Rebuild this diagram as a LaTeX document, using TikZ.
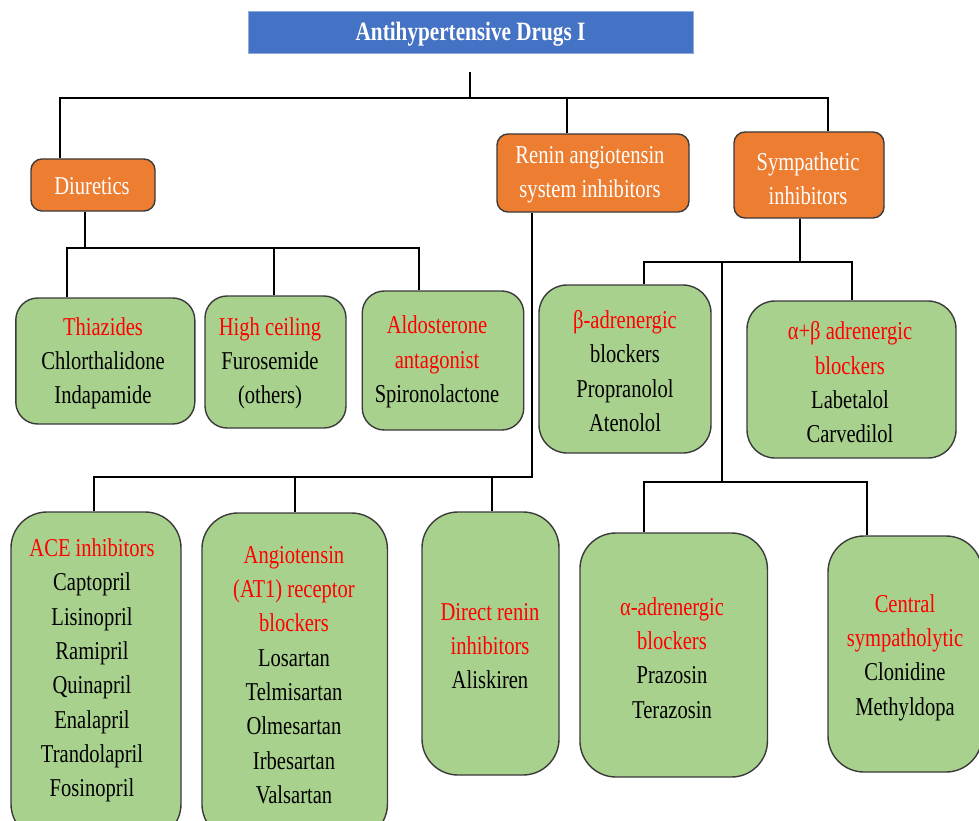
\documentclass[tikz,border=0pt]{standalone}
\usepackage{fontspec}
\setmainfont[FakeStretch=0.8]{Liberation Serif}
\definecolor{grn}{HTML}{A9D18E}
\definecolor{orng}{HTML}{ED7D31}
\definecolor{blu}{HTML}{4472C4}
\definecolor{blued}{HTML}{8FAADC}
\definecolor{rd}{HTML}{FF0000}
\definecolor{edge}{HTML}{3A3A3A}
\begin{document}
\begin{tikzpicture}[x=1pt,y=-1pt,
  conn/.style={draw=black,line width=2pt},
  gbox/.style={draw=edge,line width=1.4pt,fill=grn,inner sep=0pt,rounded corners=22pt},
  gboxl/.style={gbox,rounded corners=36pt},
  obox/.style={draw=edge,line width=1.4pt,fill=orng,inner sep=0pt,rounded corners=11pt},
  tbox/.style={draw=blued,line width=1pt,fill=blu,inner sep=0pt},
  txt/.style={align=center,inner sep=0pt,font=\fontsize{25.7}{34.3}\selectfont},
  wtxt/.style={txt,text=white}]
\useasboundingbox (0,0) rectangle (979,821);
\begin{scope}
\clip (0,0) rectangle (979,821);
% boxes
\node[tbox,minimum width=445pt,minimum height=42pt] (ttl) at (470.5,33) {};
\node[obox,minimum width=124pt,minimum height=52pt] (diu) at (93,185) {};
\node[obox,minimum width=192pt,minimum height=78pt] (ren) at (593,173) {};
\node[obox,minimum width=150pt,minimum height=86pt] (sym) at (809,175) {};
\node[gbox,minimum width=179pt,minimum height=126pt] (thz) at (105.3,361) {};
\node[gbox,minimum width=141pt,minimum height=132pt] (hc) at (275.5,362) {};
\node[gbox,minimum width=161.5pt,minimum height=139pt] (ald) at (443,360.5) {};
\node[gbox,rounded corners=28pt,minimum width=172pt,minimum height=168pt] (bet) at (625,369) {};
\node[gbox,rounded corners=28pt,minimum width=209pt,minimum height=157pt] (ab) at (851.5,379.5) {};
\node[gboxl,minimum width=170pt,minimum height=328pt] (ace) at (96,676) {};
\node[gboxl,minimum width=185.5pt,minimum height=327pt] (arb) at (294.7,676.5) {};
\node[gboxl,minimum width=137pt,minimum height=263pt] (drn) at (490.5,643.5) {};
\node[gboxl,minimum width=187.5pt,minimum height=244pt] (alp) at (673.7,655) {};
\node[gboxl,minimum width=154pt,minimum height=236pt] (cen) at (905,654) {};
% texts
\node[wtxt,font=\fontsize{26.5}{30}\selectfont\bfseries] (ttlt) at (470.5,34) {Antihypertensive Drugs I};
\node[wtxt] (diut) at (92,186) {Diuretics};
\node[wtxt] (rent) at (590,175) {Renin angiotensin\\system inhibitors};
\node[wtxt] (symt) at (808,178.5) {Sympathetic\\inhibitors};
\node[txt] (thzt) at (103,363.5) {\textcolor{rd}{Thiazides}\\Chlorthalidone\\Indapamide};
\node[txt] (hct) at (270,363.5) {\textcolor{rd}{High ceiling}\\Furosemide\\(others)};
\node[txt] (aldt) at (437,362) {\textcolor{rd}{Aldosterone}\\\textcolor{rd}{antagonist}\\Spironolactone};
\node[txt] (bett) at (625,371) {\textcolor{rd}{β-adrenergic}\\blockers\\Propranolol\\Atenolol};
\node[txt] (abt) at (850,382.5) {\textcolor{rd}{α+β adrenergic}\\\textcolor{rd}{blockers}\\Labetalol\\Carvedilol};
\node[txt] (acet) at (92,670.5) {\textcolor{rd}{ACE inhibitors}\\Captopril\\Lisinopril\\Ramipril\\Quinapril\\Enalapril\\Trandolapril\\Fosinopril};
\node[txt] (arbt) at (294,675) {\textcolor{rd}{Angiotensin}\\\textcolor{rd}{(AT1) receptor}\\\textcolor{rd}{blockers}\\Losartan\\Telmisartan\\Olmesartan\\Irbesartan\\Valsartan};
\node[txt] (drnt) at (490,646) {\textcolor{rd}{Direct renin}\\\textcolor{rd}{inhibitors}\\Aliskiren};
\node[txt] (alpt) at (672,658) {\textcolor{rd}{α-adrenergic}\\\textcolor{rd}{blockers}\\Prazosin\\Terazosin};
\node[txt] (cent) at (905,657.5) {\textcolor{rd}{Central}\\\textcolor{rd}{sympatholytic}\\Clonidine\\Methyldopa};
% connectors
\coordinate (t0) at (470,72);
\coordinate (b1) at (470,98);
\draw[conn] (t0) -- (b1);
\draw[conn] ([xshift=-33pt]diu.north) |- (b1) -| ([xshift=19pt]sym.north);
\draw[conn] ([xshift=-26pt]ren.north) -- ([xshift=-26pt]ren.north |- b1);
\coordinate (d1) at (85,248);
\draw[conn] ([xshift=-8pt]diu.south) -- (d1);
\draw[conn] ([xshift=-38pt]thz.north) |- (d1) -| ([xshift=-24pt]ald.north);
\draw[conn] ([xshift=-1.5pt]hc.north) -- ([xshift=-1.5pt]hc.north |- d1);
\coordinate (r1) at (532,477);
\draw[conn] ([xshift=-61pt]ren.south) -- (r1) -| ([xshift=-2pt]ace.north);
\draw[conn] (arb.north) -- (arb.north |- r1);
\draw[conn] ([xshift=1.5pt]drn.north) -- ([xshift=1.5pt]drn.north |- r1);
\coordinate (s1) at (800,262);
\draw[conn] ([xshift=-9pt]sym.south) -- (s1);
\draw[conn] ([xshift=19pt]bet.north) |- (s1) -| (ab.north);
\coordinate (s2) at (722,262);
\coordinate (s3) at (722,482);
\draw[conn] (s2) -- (s3);
\draw[conn] ([xshift=-30pt]alp.north) |- (s3) -| ([xshift=-38pt]cen.north);
\end{scope}
\end{tikzpicture}
\end{document}
